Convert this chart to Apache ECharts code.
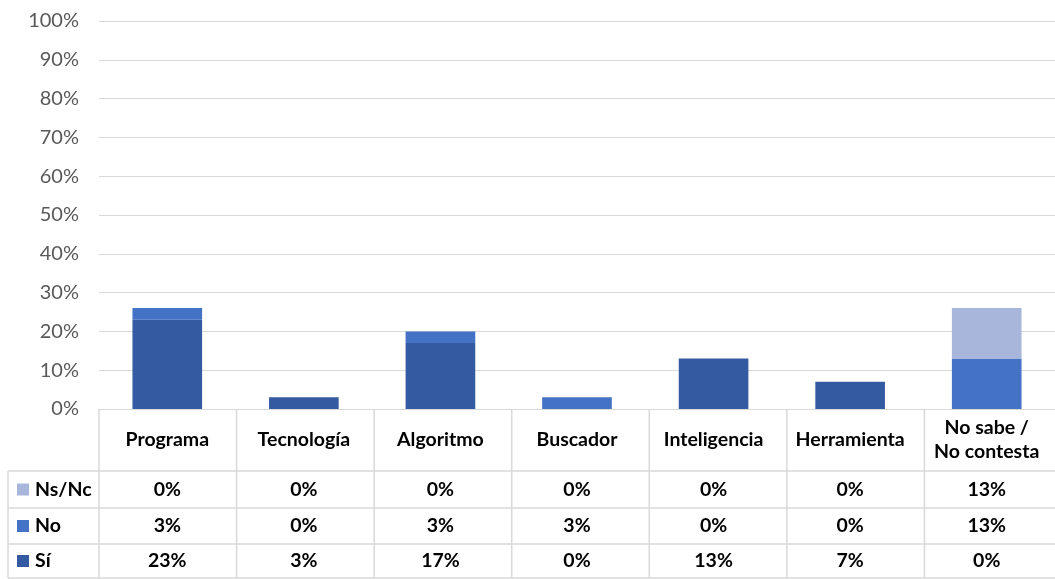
<!DOCTYPE html>
<html>
<head>
<meta charset="utf-8">
<script src="https://cdn.jsdelivr.net/npm/echarts@6/dist/echarts.min.js"></script>
<style>
  html, body { margin: 0; padding: 0; background: #fff; }
  #chart { width: 1055px; height: 579px; }
</style>
</head>
<body>
<div id="chart"></div>
<script>
// datos
const categories = ['Programa', 'Tecnología', 'Algoritmo', 'Buscador', 'Inteligencia', 'Herramienta', 'No sabe /\nNo contesta']
const si = [23, 3, 17, 0, 13, 7, 0]
const no = [3, 0, 3, 3, 0, 0, 13]
const nsnc = [0, 0, 0, 0, 0, 0, 13]
const yTicks = [0, 10, 20, 30, 40, 50, 60, 70, 80, 90, 100]

const colors = { si: '#345ba1', no: '#4472c4', nsnc: '#a8b6dc' }
const font = 'Lato, "Open Sans", sans-serif'
const lineColor = '#d9d9d9'

// filas de la tabla (de arriba a abajo)
const tableRows = [
  { name: 'Ns/Nc', values: nsnc, color: colors.nsnc },
  { name: 'No', values: no, color: colors.no },
  { name: 'Sí', values: si, color: colors.si }
]

const chart = echarts.init(document.getElementById('chart'))

const gridLeft = 99
const gridTop = 21
const gridWidth = 963
const gridHeight = 388

const option = {
  animation: false,
  grid: { left: gridLeft, top: gridTop, width: gridWidth, height: gridHeight },
  xAxis: {
    type: 'category',
    data: categories,
    axisLine: { show: true, lineStyle: { color: lineColor } },
    axisTick: { show: false },
    axisLabel: { show: false }
  },
  yAxis: {
    type: 'value',
    min: yTicks[0],
    max: yTicks[yTicks.length - 1],
    interval: 10,
    axisLine: { show: false },
    axisTick: { show: false },
    axisLabel: {
      formatter: '{value}%',
      color: '#595959',
      fontFamily: font,
      fontSize: 20,
      margin: 20
    },
    splitLine: { lineStyle: { color: lineColor, width: 1 } }
  },
  series: [
    { name: 'Sí', type: 'bar', stack: 'total', data: si, barWidth: '51%', itemStyle: { color: colors.si } },
    { name: 'No', type: 'bar', stack: 'total', data: no, barWidth: '51%', itemStyle: { color: colors.no } },
    { name: 'Ns/Nc', type: 'bar', stack: 'total', data: nsnc, barWidth: '51%', itemStyle: { color: colors.nsnc } }
  ]
}

chart.setOption(option)

// tabla de datos debajo del gráfico
const buildTable = () => {
  const colW = gridWidth / categories.length
  const axisY = gridTop + gridHeight
  const rowLines = [471, 508, 544, 578]
  const tableLeft = 8
  const right = gridLeft + gridWidth
  const txtFont = 'bold 19.5px ' + font
  const els = []
  const line = (x1, y1, x2, y2) => ({
    type: 'line',
    shape: { x1, y1, x2, y2 },
    style: { stroke: lineColor, lineWidth: 1.5 },
    silent: true
  })

  rowLines.forEach(y => els.push(line(tableLeft, y, right, y)))
  els.push(line(tableLeft, rowLines[0], tableLeft, rowLines[rowLines.length - 1]))
  for (let i = 0; i <= categories.length; i++) {
    const x = gridLeft + i * colW
    els.push(line(x, axisY, x, rowLines[rowLines.length - 1]))
  }

  categories.forEach((cat, i) => {
    const cx = chart.convertToPixel({ xAxisIndex: 0 }, i)
    els.push({
      type: 'text',
      x: cx,
      y: (axisY + rowLines[0]) / 2,
      style: {
        text: cat, font: txtFont, fill: '#000',
        align: 'center', verticalAlign: 'middle', lineHeight: 24
      },
      silent: true
    })
    tableRows.forEach((row, r) => {
      els.push({
        type: 'text',
        x: cx,
        y: (rowLines[r] + rowLines[r + 1]) / 2,
        style: {
          text: row.values[i] + '%', font: txtFont, fill: '#000',
          align: 'center', verticalAlign: 'middle'
        },
        silent: true
      })
    })
  })

  tableRows.forEach((row, r) => {
    const cy = (rowLines[r] + rowLines[r + 1]) / 2
    els.push({
      type: 'rect',
      shape: { x: 17, y: cy - 6, width: 12, height: 12 },
      style: { fill: row.color },
      silent: true
    })
    els.push({
      type: 'text',
      x: 35,
      y: cy,
      style: {
        text: row.name, font: txtFont, fill: '#000',
        align: 'left', verticalAlign: 'middle'
      },
      silent: true
    })
  })

  chart.setOption({ graphic: els })
}

buildTable()
</script>
</body>
</html>
